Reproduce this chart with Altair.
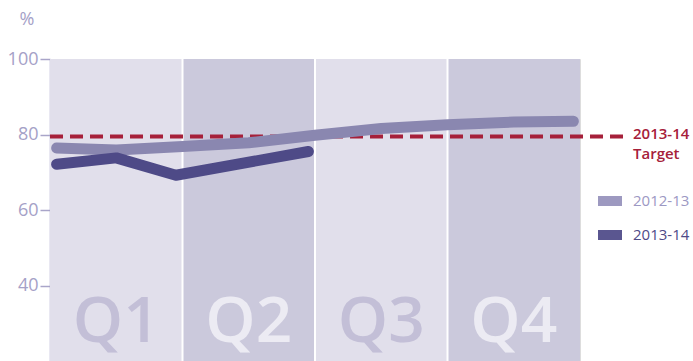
import altair as alt
import pandas as pd

quarters = ["Q1", "Q2", "Q3", "Q4"]
quarter_start = [0, 1, 2, 3]
quarter_end = [1, 2, 3, 4]
band_colors = ["#e1dfeb", "#cbc9dc", "#e1dfeb", "#cbc9dc"]
label_colors = ["#c3bfd7", "#ecebf3", "#c3bfd7", "#ecebf3"]

x_2012 = [0.05, 0.5, 1.0, 1.5, 2.0, 2.5, 3.0, 3.5, 3.95]
y_2012 = [76.4, 75.9, 76.8, 77.8, 79.8, 81.6, 82.6, 83.3, 83.5]
x_2013 = [0.05, 0.5, 0.95, 1.95]
y_2013 = [72.1, 73.8, 69.2, 75.5]

target_value = 79.5
target_label = "2013-14\nTarget"
series_names = ["2012-13", "2013-14"]
series_colors = ["#8a87b0", "#4e4a87"]
legend_swatch_colors = ["#9d99c0", "#5a5690"]
legend_label_colors = ["#9c98c3", "#4e4a87"]
y_ticks = [40, 60, 80, 100]
FONT = "Open Sans"

bands = pd.DataFrame({"q": quarters, "x0": quarter_start, "x1": quarter_end,
                      "bg": band_colors, "lc": label_colors,
                      "xm": [s + 0.5 for s in quarter_start]})
lines = pd.DataFrame({
    "x": x_2012 + x_2013,
    "y": y_2012 + y_2013,
    "series": [series_names[0]] * len(x_2012) + [series_names[1]] * len(x_2013),
})

xs = alt.Scale(domain=[0, 4], nice=False, zero=False)
ys = alt.Scale(domain=[20, 100], nice=False, zero=False)

band_layer = alt.Chart(bands).mark_rect().encode(
    x=alt.X("x0:Q", scale=xs, axis=None),
    x2="x1:Q",
    y=alt.value(0), y2=alt.value(302),
    color=alt.Color("bg:N", scale=None, legend=None),
)
sep_layer = alt.Chart(pd.DataFrame({"x": quarter_start[1:]})).mark_rule(
    color="white", strokeWidth=2
).encode(x=alt.X("x:Q", scale=xs), y=alt.value(0), y2=alt.value(302))

qlabel = alt.Chart(bands).mark_text(
    font=FONT, fontSize=64, align="center", baseline="alphabetic", fontWeight=600
).encode(
    x=alt.X("xm:Q", scale=xs),
    y=alt.value(283),
    text="q:N",
    color=alt.Color("lc:N", scale=None, legend=None),
)

axis_layer = alt.Chart(pd.DataFrame({"y": y_ticks})).mark_point(opacity=0).encode(
    y=alt.Y("y:Q", scale=ys, axis=alt.Axis(
        values=y_ticks, title=None, grid=False, domainColor="#a9a5c9",
        tickColor="#a9a5c9", tickSize=10, labelColor="#a5a1c7",
        labelFont=FONT, labelFontSize=18, labelPadding=2, domainWidth=1.5, tickWidth=1.5)),
)

target_layer = alt.Chart(pd.DataFrame({"y": [target_value]})).mark_rule(
    color="#a6203a", strokeWidth=4, strokeDash=[13, 7]
).encode(y=alt.Y("y:Q", scale=ys), x=alt.value(0), x2=alt.value(573))

target_text = alt.Chart(pd.DataFrame({"y": [target_value], "t": [target_label]})).mark_text(
    font=FONT, fontSize=15, align="left", baseline="top", lineBreak="\n",
    lineHeight=20, color="#a6203a", dy=-9, fontWeight=600
).encode(y=alt.Y("y:Q", scale=ys), x=alt.value(583), text="t:N")

line_layer = alt.Chart(lines).mark_line(
    strokeWidth=11, strokeCap="round", strokeJoin="round"
).encode(
    x=alt.X("x:Q", scale=xs),
    y=alt.Y("y:Q", scale=ys),
    color=alt.Color("series:N", scale=alt.Scale(domain=series_names, range=series_colors),
                    legend=None),
)

legend_layers = []
for i, (name, sc, lc) in enumerate(zip(series_names, legend_swatch_colors, legend_label_colors)):
    cy = 142 + 34 * i
    legend_layers.append(
        alt.Chart(pd.DataFrame({"s": [name]})).mark_rect(color=sc).encode(
            x=alt.value(548), x2=alt.value(572), y=alt.value(cy - 5), y2=alt.value(cy + 5))
    )
    legend_layers.append(
        alt.Chart(pd.DataFrame({"s": [name]})).mark_text(
            font=FONT, fontSize=15, color=lc, align="left", baseline="middle", fontWeight=500
        ).encode(x=alt.value(583), y=alt.value(cy), text="s:N")
    )

pct = alt.Chart(pd.DataFrame({"t": ["%"]})).mark_text(
    font=FONT, fontSize=18, color="#a5a1c7", align="center", baseline="middle"
).encode(x=alt.value(-23), y=alt.value(-39), text="t:N")

chart = alt.layer(band_layer, sep_layer, qlabel, axis_layer, target_layer, target_text,
                  line_layer, pct, *legend_layers).properties(
    width=530, height=302,
    padding={"left": 50, "top": 59, "right": 113, "bottom": 0},
    autosize=alt.AutoSizeParams(type="none"),
).configure_view(stroke=None).configure(background="white")

chart.save("out.html", embed_options={"renderer": "svg", "actions": False})
